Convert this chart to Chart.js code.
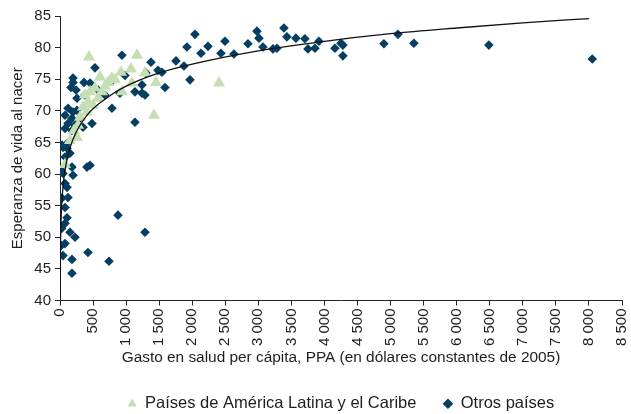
<!DOCTYPE html>
<html>
<head>
<meta charset="utf-8">
<script src="https://cdn.jsdelivr.net/npm/chart.js@4.4.1/dist/chart.umd.min.js"></script>
<style>
  html, body { margin: 0; padding: 0; background: #fff; }
  #wrap { width: 631px; height: 414px; }
</style>
</head>
<body>
<div id="wrap"><canvas id="chart" width="631" height="414"></canvas></div>
<script>
// ── Data ───────────────────────────────────────────────────
// Países de América Latina y el Caribe
const lacGasto = [438, 1164, 1074, 922, 726, 605, 832, 454, 423, 348, 499, 302, 257, 937, 1089,
                  1285, 1452, 1421, 2404, 76, 529, 378, 575, 272, 212, 680, 786, 151, 408, 635];
const lacVida  = [78.5, 78.8, 76.6, 76.1, 74.5, 75.3, 74.9, 73.0, 71.4, 70.6, 70.9, 69.0, 65.8, 73.0, 74.4,
                  76.0, 74.5, 69.3, 74.4, 61.5, 73.6, 72.5, 72.0, 67.7, 66.9, 73.9, 75.2, 65.3, 69.8, 73.0];

// Otros países
const otrosGasto = [
    1376, 1300, 1240, 1285, 1482, 1542, 1588, 1754, 1875, 1920, 2041, 1966, 2132, 2238, 2434,
    2495, 2631, 2843, 2979, 3009, 3069, 3221, 3281, 3387, 3432, 3568, 3704, 3750, 3856, 3916,
    4158, 4249, 4279, 4279, 4899, 5111, 5352, 6486, 8050,
    45, 76, 454, 408, 181, 45, 197, 76, 106, 121, 76, 106, 76, 151, 227, 76, 45, 181, 423, 741,
    181, 877, 1285, 20, 25, 20, 30,
    937, 529, 197, 166, 242, 363, 454, 575, 801, 983, 1134, 1240, 907, 680, 378, 257, 121, 197,
    76, 181, 272, 121, 227, 76, 181, 348, 484, 786, 1134, 30, 106, 151, 257, 197, 121
];
const otrosVida = [
    77.7, 76.0, 74.1, 72.5, 76.4, 76.1, 73.7, 77.9, 77.1, 80.1, 82.1, 74.9, 79.1, 80.2, 79.1,
    81.0, 79.0, 80.6, 82.6, 81.5, 80.1, 79.8, 79.9, 83.1, 81.7, 81.5, 81.4, 79.8, 79.9, 81.0,
    79.9, 80.7, 80.4, 78.7, 80.6, 82.1, 80.7, 80.4, 78.2,
    64.2, 62.7, 61.4, 61.1, 61.1, 60.1, 59.8, 58.5, 57.9, 56.3, 54.7, 53.1, 52.2, 50.8, 50.0, 49.0, 47.1, 46.5, 47.6, 46.2,
    44.3, 53.5, 50.8, 60.6, 51.4, 48.7, 56.2,
    78.8, 76.8, 74.5, 73.7, 73.3, 74.5, 74.4, 73.3, 74.9, 75.6, 73.0, 72.8, 72.8, 72.5, 72.5, 72.0, 70.4, 69.8,
    69.3, 68.8, 68.5, 68.0, 67.7, 67.2, 66.9, 67.4, 68.0, 70.4, 68.2, 64.6, 64.1, 63.3, 70.1, 75.2, 65.0
];

// Curva de tendencia (logarítmica)
const trendGasto = [1.5, 5, 15, 40, 100, 200, 400, 700, 1000, 1500, 2000, 3000, 4000, 5000, 6000, 7000, 8000];
const trendVida  = [40.4, 46.6, 52.2, 57.3, 62.0, 65.6, 69.2, 72.0, 73.9, 76.0, 77.4, 79.5, 81.0, 82.2, 83.1, 83.9, 84.6];

const xTicksMin = 0, xTicksMax = 8500, xStep = 500;
const yTicksMin = 40, yTicksMax = 85, yStep = 5;

// ── Styles ─────────────────────────────────────────────────
const FONT = "'Liberation Sans', Arial, sans-serif";
const TEXT = '#1e1e1e';
const AXIS = '#222';
const COLORS = {
    lac: '#c5deb4',
    otros: '#053e62',
    trend: '#111',
};

const pairs = (xs, ys) => xs.map((x, i) => ({ x: x, y: ys[i] }));
const fmtMiles = v => String(v).replace(/\B(?=(\d{3})+(?!\d))/g, ' ');

new Chart(document.getElementById('chart'), {
    type: 'scatter',
    data: {
        datasets: [
            {
                label: 'Tendencia',
                type: 'line',
                data: pairs(trendGasto, trendVida),
                borderColor: COLORS.trend,
                borderWidth: 1.3,
                pointRadius: 0,
                cubicInterpolationMode: 'monotone',
                fill: false,
                order: 0,
            },
            {
                label: 'Países de América Latina y el Caribe',
                data: pairs(lacGasto, lacVida),
                pointStyle: 'triangle',
                pointRadius: 7,
                backgroundColor: COLORS.lac,
                borderColor: COLORS.lac,
                borderWidth: 0,
                order: 1,
            },
            {
                label: 'Otros países',
                data: pairs(otrosGasto, otrosVida),
                pointStyle: 'rectRot',
                pointRadius: 4.8,
                backgroundColor: COLORS.otros,
                borderColor: COLORS.otros,
                borderWidth: 0,
                order: 2,
            }
        ]
    },
    options: {
        responsive: false,
        animation: false,
        layout: { padding: { top: 16, right: 9, bottom: -8, left: 0 } },
        plugins: {
            tooltip: { enabled: false },
            legend: {
                position: 'bottom',
                fullSize: false,
                labels: {
                    usePointStyle: true,
                    boxWidth: 9,
                    boxHeight: 7.5,
                    padding: 27,
                    color: TEXT,
                    font: { size: 16.5, family: FONT },
                    filter: item => item.text !== 'Tendencia',
                }
            }
        },
        scales: {
            x: {
                type: 'linear',
                min: xTicksMin,
                max: xTicksMax,
                afterFit: s => { s.height = 68; s.paddingRight = 0; s.paddingLeft = 0; },
                grid: { drawOnChartArea: false, tickLength: 5, color: AXIS },
                border: { color: AXIS, width: 1 },
                ticks: {
                    stepSize: xStep,
                    autoSkip: false,
                    minRotation: 90,
                    maxRotation: 90,
                    padding: 3,
                    color: TEXT,
                    font: { size: 15, family: FONT },
                    callback: v => fmtMiles(v),
                },
                title: {
                    display: true,
                    text: 'Gasto en salud per cápita, PPA (en dólares constantes de 2005)',
                    color: TEXT,
                    font: { size: 15.4, family: FONT },
                    padding: { top: 0, bottom: 2 },
                }
            },
            y: {
                min: yTicksMin,
                max: yTicksMax,
                afterFit: s => { s.width = 60; },
                grid: { drawOnChartArea: false, tickLength: 5, color: AXIS },
                border: { color: AXIS, width: 1 },
                ticks: {
                    stepSize: yStep,
                    padding: 4,
                    color: TEXT,
                    font: { size: 15, family: FONT },
                },
                title: {
                    display: true,
                    text: 'Esperanza de vida al nacer',
                    color: TEXT,
                    font: { size: 15, family: FONT },
                    padding: { top: 9, bottom: 0 },
                }
            }
        }
    }
});
</script>
</body>
</html>
